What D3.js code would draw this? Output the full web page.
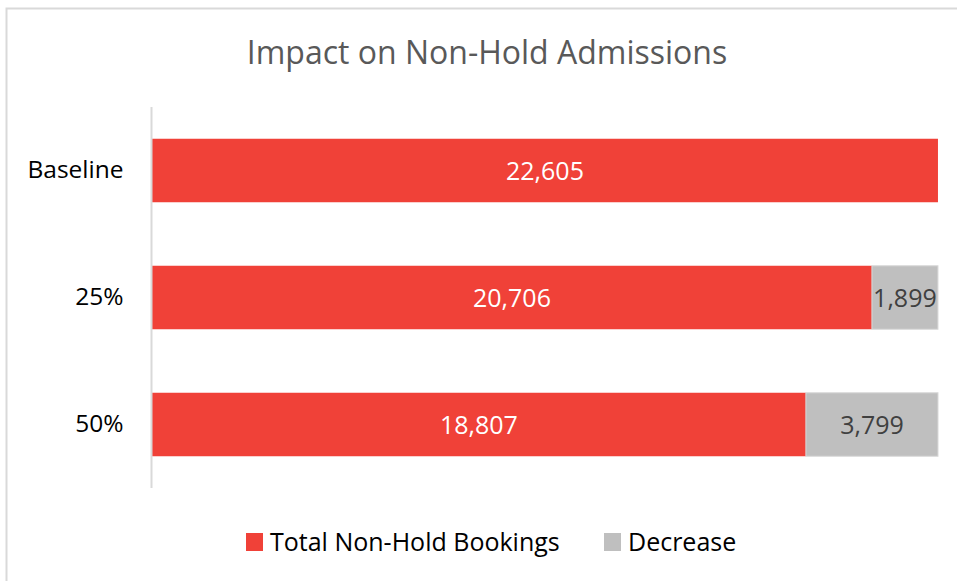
<!DOCTYPE html>
<html>
<head>
<meta charset="utf-8">
<script src="https://cdn.jsdelivr.net/npm/d3@7"></script>
<style>
  html, body { margin: 0; padding: 0; background: #fff; }
  svg { display: block; font-family: "Open Sans", sans-serif; }
</style>
</head>
<body>
<svg id="chart"></svg>
<script>
const categories = ['Baseline', '25%', '50%'];
const totalBookings = [22605, 20706, 18807];
const decrease = [0, 1899, 3799];
const seriesNames = ['Total Non-Hold Bookings', 'Decrease'];
const colors = ['#F04138', '#BFBFBF'];

const width = 957;
const height = 581;
const margin = { top: 107, right: 19, bottom: 93, left: 152 };

const svg = d3.select('#chart')
    .attr('width', width)
    .attr('height', height);

// chart frame (right/bottom edges sit outside the window)
svg.append('rect')
    .attr('x', 6.5).attr('y', 8.5)
    .attr('width', 1000).attr('height', 1000)
    .attr('fill', 'none')
    .attr('stroke', '#D9D9D9')
    .attr('stroke-width', 2);

svg.append('text')
    .attr('x', 487).attr('y', 64)
    .attr('text-anchor', 'middle')
    .attr('fill', '#595959')
    .style('font-size', '32px')
    .text('Impact on Non-Hold Admissions');

const x = d3.scaleLinear()
    .domain([0, d3.max(totalBookings.map((v, i) => v + decrease[i]))])
    .range([margin.left, width - margin.right]);

const y = d3.scaleBand()
    .domain(categories)
    .range([margin.top, height - margin.bottom])
    .paddingInner(0.5)
    .paddingOuter(0.25);

const rows = categories.map((c, i) => ({ cat: c, total: totalBookings[i], dec: decrease[i] }));

const g = svg.append('g');

// red segment
g.selectAll('rect.total')
    .data(rows)
    .enter().append('rect')
    .attr('class', 'total')
    .attr('x', x(0))
    .attr('y', d => y(d.cat))
    .attr('width', d => x(d.total) - x(0))
    .attr('height', y.bandwidth())
    .attr('fill', colors[0]);

// gray segment
g.selectAll('rect.dec')
    .data(rows.filter(d => d.dec > 0))
    .enter().append('rect')
    .attr('class', 'dec')
    .attr('x', d => x(d.total))
    .attr('y', d => y(d.cat))
    .attr('width', d => x(d.total + d.dec) - x(d.total))
    .attr('height', y.bandwidth())
    .attr('fill', colors[1])
    .attr('stroke', '#D9D9D9')
    .attr('stroke-width', 1);

const fmt = d3.format(',');

g.selectAll('text.totalLabel')
    .data(rows)
    .enter().append('text')
    .attr('x', d => (x(0) + x(d.total)) / 2)
    .attr('y', d => y(d.cat) + y.bandwidth() / 2)
    .attr('dy', '0.36em')
    .attr('text-anchor', 'middle')
    .attr('fill', '#fff')
    .style('font-size', '25px')
    .text(d => fmt(d.total));

g.selectAll('text.decLabel')
    .data(rows.filter(d => d.dec > 0))
    .enter().append('text')
    .attr('x', d => (x(d.total) + x(d.total + d.dec)) / 2)
    .attr('y', d => y(d.cat) + y.bandwidth() / 2)
    .attr('dy', '0.36em')
    .attr('text-anchor', 'middle')
    .attr('fill', '#404040')
    .style('font-size', '25px')
    .text(d => fmt(d.dec));

// category axis
const yAxis = svg.append('g')
    .attr('transform', `translate(${margin.left - 0.5},0)`)
    .call(d3.axisLeft(y).tickSize(0).tickPadding(28));
yAxis.select('.domain')
    .attr('d', `M0,${margin.top}V${height - margin.bottom}`)
    .attr('stroke', '#D9D9D9')
    .attr('stroke-width', 2);
yAxis.selectAll('text')
    .attr('fill', '#000')
    .style('font-family', '"Open Sans", sans-serif')
    .style('font-size', '24.5px');

// legend
const legend = svg.append('g').attr('transform', 'translate(246,542)');
const legendX = [0, 358];
seriesNames.forEach((name, i) => {
    const item = legend.append('g').attr('transform', `translate(${legendX[i]},0)`);
    item.append('rect')
        .attr('x', 0).attr('y', -9)
        .attr('width', 17).attr('height', 18)
        .attr('fill', colors[i]);
    item.append('text')
        .attr('x', 24).attr('y', 0)
        .attr('dy', '0.36em')
        .attr('fill', '#000')
        .style('font-size', '25px')
        .text(name);
});
</script>
</body>
</html>
